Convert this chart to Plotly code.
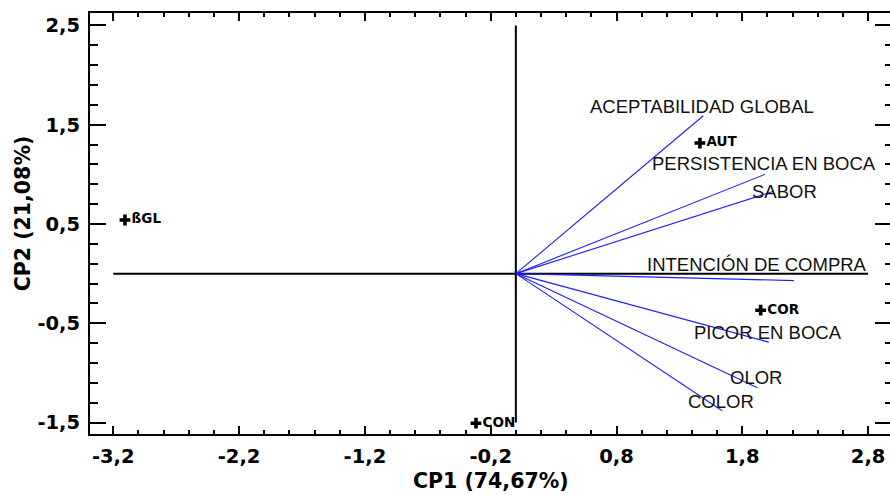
import plotly.graph_objects as go

# ---- data ----
obs_names = ["ßGL", "AUT", "COR", "CON"]
obs_x = [-3.107, 1.463, 1.946, -0.317]
obs_y = [0.54, 1.315, -0.368, -1.506]

var_names = ["ACEPTABILIDAD GLOBAL", "PERSISTENCIA EN BOCA", "SABOR",
             "INTENCIÓN DE COMPRA", "PICOR EN BOCA", "OLOR", "COLOR"]
var_x = [1.49, 1.98, 2.05, 2.21, 2.01, 1.92, 1.64]
var_y = [1.59, 1.00, 0.83, -0.07, -0.69, -1.15, -1.38]

x_tickvals = [-3.2, -2.2, -1.2, -0.2, 0.8, 1.8, 2.8]
x_ticktext = ["-3,2", "-2,2", "-1,2", "-0,2", "0,8", "1,8", "2,8"]
y_tickvals = [-1.5, -0.5, 0.5, 1.5, 2.5]
y_ticktext = ["-1,5", "-0,5", "0,5", "1,5", "2,5"]

x_title = "CP1 (74,67%)"
y_title = "CP2 (21,08%)"

x_axis_extent = [-3.2, 2.8]
y_axis_extent = [-1.5, 2.5]

# ---- styles (label offsets in px) ----
label_shift = [(-1, 9), (-1, 11), (11, 0), (-37, 16), (-1, 10), (-1, 10), (-1, 9)]

FONT = "Arial, 'Liberation Sans', sans-serif"
BFONT = "DejaVu Sans"
XR = [-3.385, 2.974]
YR = [-1.615, 2.625]

fig = go.Figure()

# reference axes through origin
fig.add_trace(go.Scatter(x=x_axis_extent, y=[0, 0], mode="lines",
                         line=dict(color="black", width=2), hoverinfo="skip", showlegend=False))
fig.add_trace(go.Scatter(x=[0, 0], y=y_axis_extent, mode="lines",
                         line=dict(color="black", width=2), hoverinfo="skip", showlegend=False))

# variable vectors
for name, vx, vy in zip(var_names, var_x, var_y):
    fig.add_trace(go.Scatter(x=[0, vx], y=[0, vy], mode="lines",
                             line=dict(color="rgb(30,30,255)", width=1.1),
                             name=name, showlegend=False))

for name, vx, vy, (dx, dy) in zip(var_names, var_x, var_y, label_shift):
    fig.add_annotation(x=vx, y=vy, text=name, showarrow=False,
                       xanchor="center", yanchor="middle", xshift=dx, yshift=dy,
                       font=dict(family=FONT, size=18.5, color="#111"))

# observations
fig.add_trace(go.Scatter(x=obs_x, y=obs_y, mode="markers+text", text=obs_names,
                         textposition="middle right",
                         marker=dict(symbol="cross", size=9, color="black"),
                         textfont=dict(family=BFONT, size=13.5, color="black", weight="bold"),
                         showlegend=False))

axis_font = dict(family=BFONT, size=19.5, color="black", weight="bold")
title_font = dict(family=BFONT, size=20.5, color="black", weight="bold")

# axis titles
fig.add_annotation(xref="paper", yref="paper", x=0.5015, y=-0.111, text=x_title,
                   showarrow=False, xanchor="center", yanchor="middle", font=title_font)
fig.add_annotation(xref="paper", yref="paper", x=-0.084, y=0.5, text=y_title,
                   showarrow=False, xanchor="center", yanchor="middle", textangle=-90,
                   yshift=10, font=title_font)

fig.update_layout(
    width=890, height=495,
    margin=dict(l=90, r=0, t=13, b=61),
    paper_bgcolor="white", plot_bgcolor="white",
    font=dict(family=FONT),
    xaxis=dict(range=XR, tickmode="array", tickvals=x_tickvals, ticktext=x_ticktext,
               showgrid=False, zeroline=False, showline=True, linecolor="black", linewidth=2,
               mirror="ticks", ticks="inside", ticklen=8, tickwidth=2, tickcolor="black",
               tickfont=axis_font, ticklabelstandoff=4,
               minor=dict(tickmode="linear", tick0=-3.2, dtick=0.2, ticks="inside",
                          ticklen=4, tickwidth=2, tickcolor="black", showgrid=False)),
    yaxis=dict(range=YR, tickmode="array", tickvals=y_tickvals, ticktext=y_ticktext,
               showgrid=False, zeroline=False, showline=True, linecolor="black", linewidth=2,
               mirror=False, ticks="inside", ticklen=16, tickwidth=2, tickcolor="black",
               tickfont=axis_font, ticklabelstandoff=4,
               minor=dict(tickmode="linear", tick0=-1.5, dtick=0.2, ticks="inside",
                          ticklen=8, tickwidth=2, tickcolor="black", showgrid=False)),
    yaxis2=dict(range=YR, overlaying="y", side="right", tickmode="array",
                tickvals=y_tickvals, showticklabels=False,
                showgrid=False, zeroline=False, showline=False,
                ticks="inside", ticklen=15, tickwidth=2, tickcolor="black",
                minor=dict(tickmode="linear", tick0=-1.5, dtick=0.2, ticks="inside",
                           ticklen=5, tickwidth=2, tickcolor="black", showgrid=False)),
)
fig.add_trace(go.Scatter(x=[XR[0]], y=[YR[0]], yaxis="y2", mode="markers",
                         marker=dict(opacity=0), hoverinfo="skip", showlegend=False))

fig.write_html("out.html")
